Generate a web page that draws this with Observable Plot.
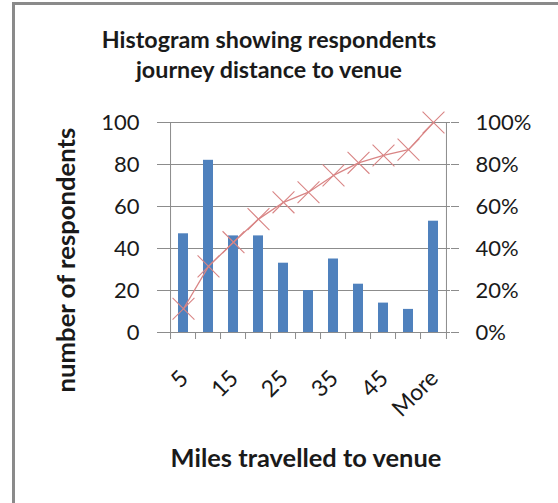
<!DOCTYPE html>
<html><head><meta charset="utf-8">
<script src="https://cdn.jsdelivr.net/npm/d3@7"></script>
<script src="https://cdn.jsdelivr.net/npm/@observablehq/plot@0.6"></script>
<style>
html,body{margin:0;padding:0;background:#fff;}
#wrap{position:relative;width:558px;height:503px;overflow:hidden;font-family:Lato,sans-serif;}
#border{position:absolute;left:12px;top:2px;width:600px;height:600px;border-left:3px solid #8a8a8a;border-top:3px solid #8a8a8a;}
#chart svg,#overlay{position:absolute;left:0;top:0;}
</style></head><body>
<div id="wrap"><div id="border"></div><div id="chart"></div></div>
<script>
// Data
const categories = ["5","10","15","20","25","30","35","40","45","50","More"];
const counts = [47, 82, 46, 46, 33, 20, 35, 23, 14, 11, 53];
const cumPct = [11.3, 31.5, 43, 54, 62, 66.8, 74.8, 80.8, 84.3, 87.1, 100];
const xTickLabels = ["5","15","25","35","45","More"];
const yTicks = [0, 20, 40, 60, 80, 100];
const titleLines = ["Histogram showing respondents", "journey distance to venue"];
const yTitle = "number of respondents";
const xTitle = "Miles travelled to venue";

const W = 558, H = 503, mL = 165, mR = 108, mT = 122, mB = 171;
const step = (W - mL - mR) / categories.length;
const grey = "#8c8c8c";
const red = "#d98585";
const ink = "#1a1a1a";
const data = categories.map((c, i) => ({cat: c, count: counts[i], pct: cumPct[i]}));

const chart = Plot.plot({
  width: W, height: H,
  marginLeft: mL, marginRight: mR, marginTop: mT, marginBottom: mB,
  style: {fontFamily: "Lato, sans-serif", fontSize: "22px", background: "transparent", overflow: "visible", color: ink},
  x: {type: "band", domain: categories, paddingInner: 0.6, paddingOuter: 0.3, axis: null},
  y: {domain: [0, 100], axis: null},
  marks: [
    Plot.gridY(yTicks, {stroke: grey, strokeOpacity: 1}),
    Plot.axisY(yTicks, {anchor: "left", tickSize: 8, tickPadding: 18, stroke: grey, fill: ink, label: null}),
    Plot.axisY(yTicks, {anchor: "right", tickSize: 8, tickPadding: 17, stroke: grey, fill: ink, label: null, tickFormat: d => d + "%"}),
    Plot.axisX(categories, {anchor: "bottom", tickSize: 7, dx: -step / 2, stroke: grey, tickFormat: () => "", label: null}),
    Plot.axisX([categories[categories.length - 1]], {anchor: "bottom", tickSize: 7, dx: step / 2, stroke: grey, tickFormat: () => "", label: null}),
    Plot.barY(data, {x: "cat", y: "count", fill: "#4f81bd"}),
    Plot.ruleY([0], {stroke: grey}),
    Plot.ruleX([categories[0]], {dx: -step / 2, stroke: grey}),
    Plot.ruleX([categories[categories.length - 1]], {dx: step / 2, stroke: grey}),
    Plot.line(data, {x: "cat", y: "pct", stroke: red, strokeWidth: 1.3}),
    Plot.dot(data, {x: "cat", y: "pct", symbol: "times", r: 10, stroke: red, strokeWidth: 1.1}),
    Plot.text(data.filter(d => xTickLabels.includes(d.cat)), {
      x: "cat", text: "cat", frameAnchor: "bottom", rotate: -45, textAnchor: "end",
      lineAnchor: "middle", dx: 1, dy: 42, fill: ink, fontSize: 23
    })
  ]
});
document.getElementById("chart").appendChild(chart);

const ov = d3.select("#wrap").append("svg").attr("id", "overlay")
  .attr("width", W).attr("height", H)
  .style("font-family", "Lato, sans-serif").style("font-weight", "bold").style("fill", ink);
titleLines.forEach((t, i) => {
  ov.append("text").attr("transform", `translate(269,${48 + i * 30}) scale(1.06,1)`).attr("text-anchor", "middle")
    .style("font-size", "22px").text(t);
});
ov.append("text").attr("transform", "translate(75,260) rotate(-90) scale(1.07,1)").attr("text-anchor", "middle")
  .style("font-size", "24px").text(yTitle);
ov.append("text").attr("transform", "translate(306,467) scale(1.06,1)").attr("text-anchor", "middle")
  .style("font-size", "24px").text(xTitle);
</script>
</body></html>
